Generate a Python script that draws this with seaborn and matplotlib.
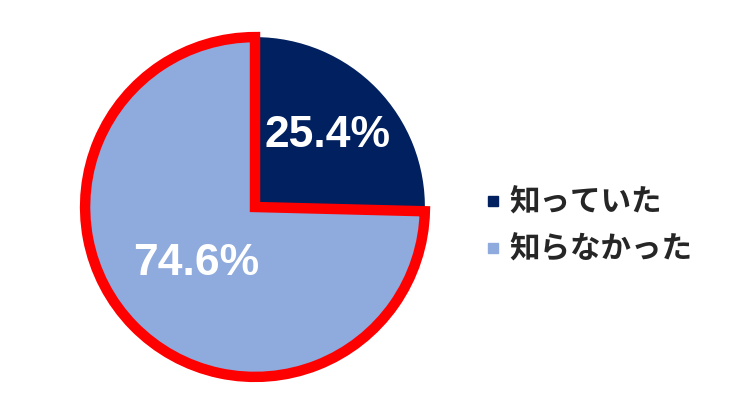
import matplotlib
matplotlib.use("Agg")
import numpy as np
import seaborn as sns
import matplotlib.pyplot as plt
from matplotlib.lines import Line2D

# データ
labels = ["知っていた", "知らなかった"]
values = [25.4, 74.6]
colors = ["#002060", "#8FAADC"]

sns.set_theme(style="white")
plt.rcParams["font.family"] = ["Noto Sans CJK JP", "DejaVu Sans"]

fig = plt.figure(figsize=(7.3, 4.2), dpi=100)
ax = fig.add_axes([80 / 730, 38 / 420, 350 / 730, 350 / 420])

wedges, _ = ax.pie(values, colors=colors, startangle=90, counterclock=False,
                   wedgeprops=dict(linewidth=0))
# 「知らなかった」の扇形を赤枠で囲む
wedges[1].set_edgecolor("#FF0000")
wedges[1].set_linewidth(7.5)
wedges[1].set_joinstyle("miter")
wedges[1].set_zorder(3)
for w in wedges:
    w.set_clip_on(False)

# パーセント表示
dists = [0.6, 0.48]
for w, v, d in zip(wedges, values, dists):
    ang = np.deg2rad((w.theta1 + w.theta2) / 2)
    ax.text(d * np.cos(ang), d * np.sin(ang), f"{v}%", ha="center", va="center",
            color="white", fontsize=32, fontweight="bold",
            family=["Liberation Sans", "DejaVu Sans"], zorder=5)

ax.set_xlim(-1.03, 1.03)
ax.set_ylim(-1.03, 1.03)
ax.set_aspect("equal")

handles = [Line2D([0], [0], marker="s", linestyle="none", markersize=7,
                  markerfacecolor=c, markeredgecolor=c) for c in colors]
fig.legend(handles, labels, loc="center left", bbox_to_anchor=(458 / 730, 194 / 420),
           frameon=False, handlelength=0.5, handletextpad=0.3, labelspacing=0.5,
           prop={"family": ["Noto Sans CJK JP", "DejaVu Sans"], "size": 22, "weight": "bold"})

fig.savefig("out.png", dpi=100)
